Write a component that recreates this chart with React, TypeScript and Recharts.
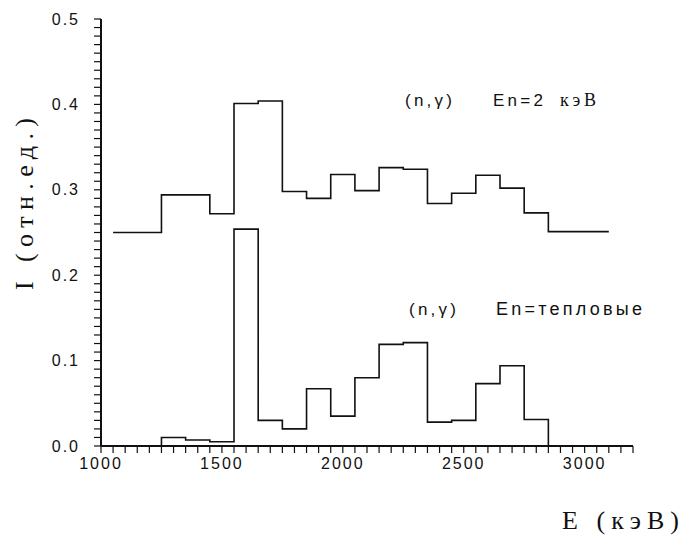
import { LineChart, Line, XAxis, YAxis } from 'recharts';

// bin edges (keV) and heights
const upperEdges = [1050, 1250, 1450, 1550, 1650, 1750, 1850, 1950, 2050, 2150, 2250, 2350, 2450, 2550, 2650, 2750, 2850, 3100];
const upperValues = [0.25, 0.294, 0.272, 0.401, 0.404, 0.298, 0.29, 0.318, 0.299, 0.326, 0.324, 0.284, 0.296, 0.317, 0.302, 0.273, 0.251];

const lowerEdges = [1250, 1350, 1450, 1550, 1650, 1750, 1850, 1950, 2050, 2150, 2250, 2350, 2450, 2550, 2650, 2750, 2850];
const lowerValues = [0.01, 0.007, 0.005, 0.254, 0.03, 0.02, 0.067, 0.035, 0.08, 0.119, 0.121, 0.028, 0.03, 0.073, 0.094, 0.031];

const xLabels = [1000, 1500, 2000, 2500, 3000];
const yLabels = [0, 0.1, 0.2, 0.3, 0.4, 0.5];

const xTicks: number[] = [];
for (let x = 1000; x <= 3200; x += 50) xTicks.push(x);
const yTicks: number[] = [];
for (let i = 0; i <= 50; i++) yTicks.push(i / 100);

// step histogram -> points for stepAfter
const upperData = upperEdges.map((e, i) => ({ e, v: upperValues[Math.min(i, upperValues.length - 1)] }));
const lowerData = [
  { e: lowerEdges[0], v: 0 },
  ...lowerEdges.slice(0, -1).map((e, i) => ({ e, v: lowerValues[i] })),
  { e: lowerEdges[lowerEdges.length - 1], v: lowerValues[lowerValues.length - 1] },
  { e: lowerEdges[lowerEdges.length - 1], v: 0 },
];

const tickFont = { fontFamily: 'Liberation Sans, Arial, sans-serif', fontSize: 16, fill: '#111', letterSpacing: 2 };
const annFont = { fontFamily: 'Liberation Sans, Arial, sans-serif', fontSize: 17, fill: '#111' };
const titleFont = { fontFamily: 'Liberation Serif, Times New Roman, serif', fontSize: 26, fill: '#111' };

const fmtX = (v: number) => (xLabels.includes(v) ? String(v) : '');
const fmtY = (v: number) => {
  const hit = yLabels.find((l) => Math.abs(l - v) < 1e-6);
  return hit === undefined ? '' : hit.toFixed(1);
};

export default function App() {
  return (
    <div style={{ position: 'absolute', left: 0, top: 0, background: '#fff' }}>
      <LineChart width={683} height={538} margin={{ top: 19, right: 50, bottom: 62, left: 0 }}>
        <XAxis
          dataKey="e"
          type="number"
          domain={[1000, 3200]}
          ticks={xTicks}
          tickFormatter={fmtX}
          interval={0}
          tickSize={7}
          tickMargin={5}
          height={30}
          allowDuplicatedCategory={false}
          axisLine={{ stroke: '#111', strokeWidth: 2 }}
          tickLine={{ stroke: '#111', strokeWidth: 1.2 }}
          tick={tickFont}
        />
        <YAxis
          type="number"
          domain={[0, 0.5]}
          ticks={yTicks}
          tickFormatter={fmtY}
          interval={0}
          tickSize={7}
          tickMargin={14}
          width={101}
          axisLine={{ stroke: '#111', strokeWidth: 2 }}
          tickLine={{ stroke: '#111', strokeWidth: 1.2 }}
          tick={tickFont}
        />
        <Line data={upperData} dataKey="v" type="stepAfter" stroke="#111" strokeWidth={1.6} dot={false} isAnimationActive={false} />
        <Line data={lowerData} dataKey="v" type="stepAfter" stroke="#111" strokeWidth={1.6} dot={false} isAnimationActive={false} />

        <text x={405} y={106} {...annFont} textLength={47} lengthAdjust="spacing">(n,γ)</text>
        <text x={493} y={106} {...annFont} textLength={50} lengthAdjust="spacing">En=2</text>
        <text x={560} y={106} {...annFont} fontFamily="Liberation Serif, serif" fontSize={18} textLength={36} lengthAdjust="spacing">кэВ</text>

        <text x={409} y={315} {...annFont} textLength={47} lengthAdjust="spacing">(n,γ)</text>
        <text x={496} y={315} {...annFont} fontSize={18} textLength={146} lengthAdjust="spacing">En=тепловые</text>

        <text x={0} y={0} {...titleFont} transform="translate(33,290) rotate(-90)" textLength={172} lengthAdjust="spacing">I (отн.ед.)</text>
        <text x={562} y={529} {...titleFont} textLength={117} lengthAdjust="spacing">E (кэВ)</text>
      </LineChart>
    </div>
  );
}
